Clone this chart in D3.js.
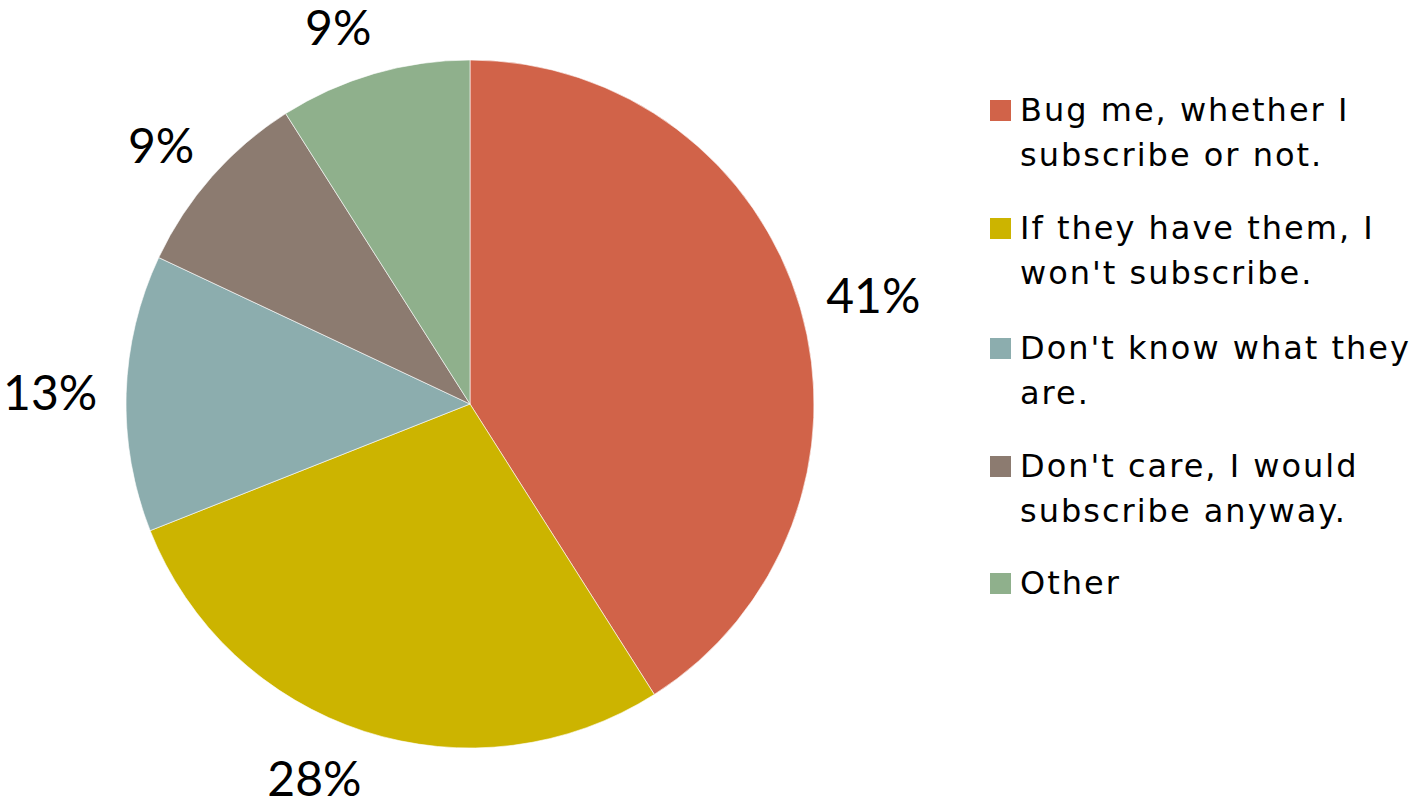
<!DOCTYPE html>
<html>
<head>
<meta charset="utf-8">
<script src="https://cdn.jsdelivr.net/npm/d3@7"></script>
<style>
  html, body { margin: 0; padding: 0; background: #fff; }
  svg { display: block; }
  .pct { font-family: "Lato", "Open Sans", sans-serif; }
  .legend text { font-family: "DejaVu Sans", "Noto Sans", sans-serif; letter-spacing: 2px; }
</style>
</head>
<body>
<svg id="chart" width="1423" height="802"></svg>
<script>
// Survey answers and their shares (percent)
const categories = [
  "Bug me, whether I subscribe or not.",
  "If they have them, I won't subscribe.",
  "Don't know what they are.",
  "Don't care, I would subscribe anyway.",
  "Other"
];
const values = [41, 28, 13, 9, 9];
const colors = ["#D16349", "#CCB400", "#8CADAE", "#8C7B70", "#8FB08C"];
// Legend text broken into lines as displayed
const legendLines = [
  ["Bug me, whether I", "subscribe or not."],
  ["If they have them, I", "won't subscribe."],
  ["Don't know what they", "are."],
  ["Don't care, I would", "subscribe anyway."],
  ["Other"]
];

const svg = d3.select("#chart");
const cx = 470, cy = 404, radius = 344, labelGap = 32;

const data = categories.map((c, i) => ({ name: c, value: values[i], color: colors[i], lines: legendLines[i] }));

const pie = d3.pie().value(d => d.value).sort(null);
const arcs = pie(data);
const arc = d3.arc().innerRadius(0).outerRadius(radius);
const anchorArc = d3.arc().innerRadius(radius + labelGap).outerRadius(radius + labelGap);

const g = svg.append("g").attr("transform", `translate(${cx},${cy})`);

g.selectAll("path.slice")
  .data(arcs)
  .join("path")
  .attr("class", "slice")
  .attr("d", arc)
  .attr("fill", d => d.data.color)
  .attr("stroke", "#fff")
  .attr("stroke-width", 0.6);

// Percentage labels sit just outside the rim: the box is placed on the
// outer side of an anchor point on the slice's mid-angle.
const labels = g.selectAll("text.pct")
  .data(arcs)
  .join("text")
  .attr("class", "pct")
  .attr("text-anchor", "middle")
  .attr("dominant-baseline", "central")
  .attr("font-size", 48)
  .attr("fill", "#000")
  .text(d => d.data.value + "%");

labels.attr("transform", function(d) {
  const bb = this.getBBox();
  const mid = (d.startAngle + d.endAngle) / 2;
  const [ax, ay] = anchorArc.centroid(d);
  const s = Math.sin(mid);
  const x = ax + Math.sign(s) * bb.width / 2 * Math.max(Math.abs(s), 0.9) - Math.sign(s) * 3;
  const y = ay - Math.cos(mid) * (bb.height * 0.6) / 2;
  return `translate(${x},${y})`;
});

// Legend
const legend = svg.append("g").attr("class", "legend").attr("transform", "translate(990,0)");
const itemY = [110, 228, 348, 466, 583];
const lineGap = 45;

const items = legend.selectAll("g.item")
  .data(data)
  .join("g")
  .attr("class", "item")
  .attr("transform", (d, i) => `translate(0,${itemY[i]})`);

items.append("rect")
  .attr("x", 0)
  .attr("y", -10)
  .attr("width", 21)
  .attr("height", 21)
  .attr("fill", d => d.color);

items.each(function(d) {
  const t = d3.select(this).append("text")
    .attr("x", 30)
    .attr("font-size", 32)
    .attr("fill", "#000");
  d.lines.forEach((ln, j) => {
    t.append("tspan")
      .attr("x", 30)
      .attr("y", j * lineGap)
      .attr("dominant-baseline", "central")
      .text(ln);
  });
});
</script>
</body>
</html>
